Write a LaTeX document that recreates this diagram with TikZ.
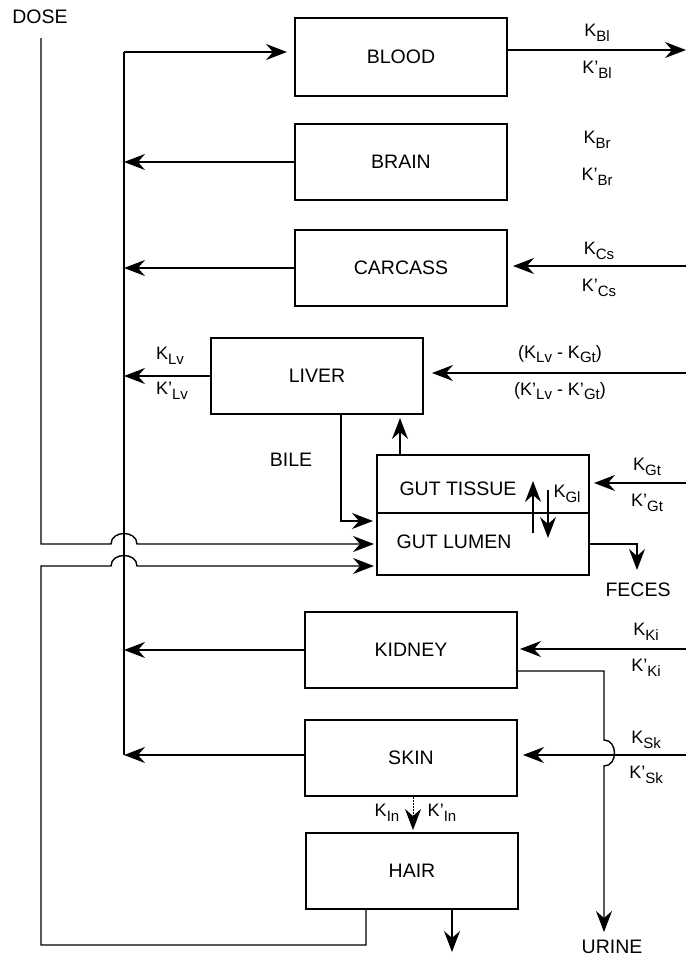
\documentclass[tikz,border=0pt]{standalone}
\usepackage{fontspec}
\setmainfont{Liberation Sans}
\usetikzlibrary{arrows.meta}
\newcommand{\Ksb}[1]{\raisebox{-4.5pt}{\fontsize{15}{15}\selectfont #1}}
\tikzset{
  box/.style={draw, line width=2pt, minimum width=212pt, minimum height=76pt, inner sep=0pt, font=\fontsize{19.5}{19.5}\selectfont},
  lbl/.style={inner sep=0pt, font=\fontsize{19.5}{19.5}\selectfont},
  klbl/.style={inner sep=0pt, font=\fontsize{18}{18}\selectfont},
  conn/.style={line width=1.4pt},
  arr/.style={line width=1.4pt, -{Stealth[length=21pt,width=16pt,inset=7pt]}},
}
\begin{document}
\begin{tikzpicture}[x=1pt,y=-1pt]
\useasboundingbox (0,0) rectangle (686,961);
% boxes
\node[box, minimum height=78pt] (blood) at (401,57) {BLOOD};
\node[box] (brain) at (401,162) {BRAIN};
\node[box] (carcass) at (401,268) {CARCASS};
\node[box] (liver) at (317,376) {LIVER};
\node[box, minimum height=58pt] (guttissue) at (483,484) {};
\node[box, minimum height=62pt] (gutlumen) at (483,544) {};
\node[lbl] (tgt) at (458,489) {GUT TISSUE};
\node[lbl] (tgl) at (454,542) {GUT LUMEN};
\node[box] (kidney) at (411,650) {KIDNEY};
\node[box] (skin) at (411,758) {SKIN};
\node[box] (hair) at (412,871) {HAIR};
% free text
\node[lbl] (dose) at (40,17) {DOSE};
\node[lbl] (bile) at (291,460) {BILE};
\node[lbl] (feces) at (638,590) {FECES};
\node[lbl] (urine) at (612,947) {URINE};
% K labels
\node[klbl] (kbl) at (597,33) {K\Ksb{Bl}};
\node[klbl] (kpbl) at (597,70) {K'\Ksb{Bl}};
\node[klbl] (kbr) at (597,140) {K\Ksb{Br}};
\node[klbl] (kpbr) at (597,177) {K'\Ksb{Br}};
\node[klbl] (kcs) at (599,251) {K\Ksb{Cs}};
\node[klbl] (kpcs) at (599,288) {K'\Ksb{Cs}};
\node[klbl] (klv) at (170,356) {K\Ksb{Lv}};
\node[klbl] (kplv) at (172,391) {K'\Ksb{Lv}};
\node[klbl] (klvgt) at (560,354) {(K\Ksb{Lv} - K\Ksb{Gt})};
\node[klbl] (kplvgt) at (560,391) {(K'\Ksb{Lv} - K'\Ksb{Gt})};
\node[klbl] (kgt) at (647,467) {K\Ksb{Gt}};
\node[klbl] (kpgt) at (647,503) {K'\Ksb{Gt}};
\node[klbl] (kgl) at (567,494) {K\Ksb{Gl}};
\node[klbl] (kki) at (646,632) {K\Ksb{Ki}};
\node[klbl] (kpki) at (646,668) {K'\Ksb{Ki}};
\node[klbl] (ksk) at (646,740) {K\Ksb{Sk}};
\node[klbl] (kpsk) at (646,775) {K'\Ksb{Sk}};
\node[klbl] (kin) at (387,813) {K\Ksb{In}};
\node[klbl] (kpin) at (442,813) {K'\Ksb{In}};
% coordinates
\coordinate (dosetop) at (41,38);
\coordinate (dosebend) at (41,544);
\coordinate (hopAa) at (111,544);
\coordinate (hopAb) at (137,544);
\coordinate (trunktop) at (124,52);
\coordinate (trunkbot) at (124,755);
\coordinate (bout) at (686,50);
\coordinate (rcar) at (686,266);
\coordinate (rliv) at (686,373);
\coordinate (rgut) at (686,483);
\coordinate (rkid) at (686,649);
\coordinate (rskin) at (686,755);
\coordinate (gl) at (400,455);
\coordinate (bilept) at (341,521);
\coordinate (fec) at (637,570);
\coordinate (hl) at (366,945);
\coordinate (hlc) at (41,945);
\coordinate (hlu) at (41,566);
\coordinate (hopBa) at (111,566);
\coordinate (hopBb) at (137,566);
\coordinate (urk) at (560,671);
\coordinate (urc) at (604,671);
\coordinate (urha) at (604,740);
\coordinate (urhb) at (604,766);
\coordinate (ur) at (604,932);
\coordinate (hout) at (452,952);
\coordinate (kinx) at (413,800);
% trunk and its branches
\draw[conn] (trunkbot) -- (trunktop);
\draw[arr, shorten >=7pt] (trunktop) -- (trunktop -| blood.west);
\draw[arr] (brain.west) -- (brain.west -| trunktop);
\draw[arr] (carcass.west) -- (carcass.west -| trunktop);
\draw[arr] (liver.west) -- (liver.west -| trunktop);
\draw[arr] (kidney.west) -- (kidney.west -| trunktop);
\draw[arr] (skin.west |- trunkbot) -- (trunkbot);
% right side
\draw[arr] (bout -| blood.east) -- (bout);
\draw[arr, shorten >=5pt] (rcar) -- (rcar -| carcass.east);
\draw[arr, shorten >=8pt] (rliv) -- (rliv -| liver.east);
\draw[arr, shorten >=4pt] (rgut) -- (rgut -| guttissue.east);
\draw[arr, shorten >=2pt] (rkid) -- (rkid -| kidney.east);
\draw[arr, shorten >=5pt] (rskin) -- (rskin -| skin.east);
% gut / liver
\draw[arr, shorten >=3pt] (gl |- guttissue.north) -- (gl |- liver.south);
\draw[arr, shorten >=3pt] (bilept |- liver.south) |- (bilept -| gutlumen.west);
\draw[arr, shorten >=2pt] (dosetop) -- (dosebend) -- (hopAa) .. controls (111,530) and (137,530) .. (hopAb) -- (gutlumen.west);
\draw[arr] (533,533) -- (533,481);
\draw[arr] (548,490) -- (548,538);
\draw[arr] (gutlumen.east) -| (fec);
% hair loop
\draw[arr, shorten >=2pt] (hl |- hair.south) -- (hl) -- (hlc) -- (hlu) -- (hopBa) .. controls (111,552) and (137,552) .. (hopBb) -- (hopBb -| gutlumen.west);
% urine
\draw[arr] (urk -| kidney.east) -- (urc) -- (urha) .. controls (618,740) and (618,766) .. (urhb) -- (ur);
% hair
\draw[arr] (hout |- hair.south) -- (hout);
\draw[arr, line width=0.8pt, dash pattern=on 1.5pt off 1.5pt, shorten >=2pt] (kinx |- skin.south) -- (kinx |- hair.north);
\end{tikzpicture}
\end{document}
